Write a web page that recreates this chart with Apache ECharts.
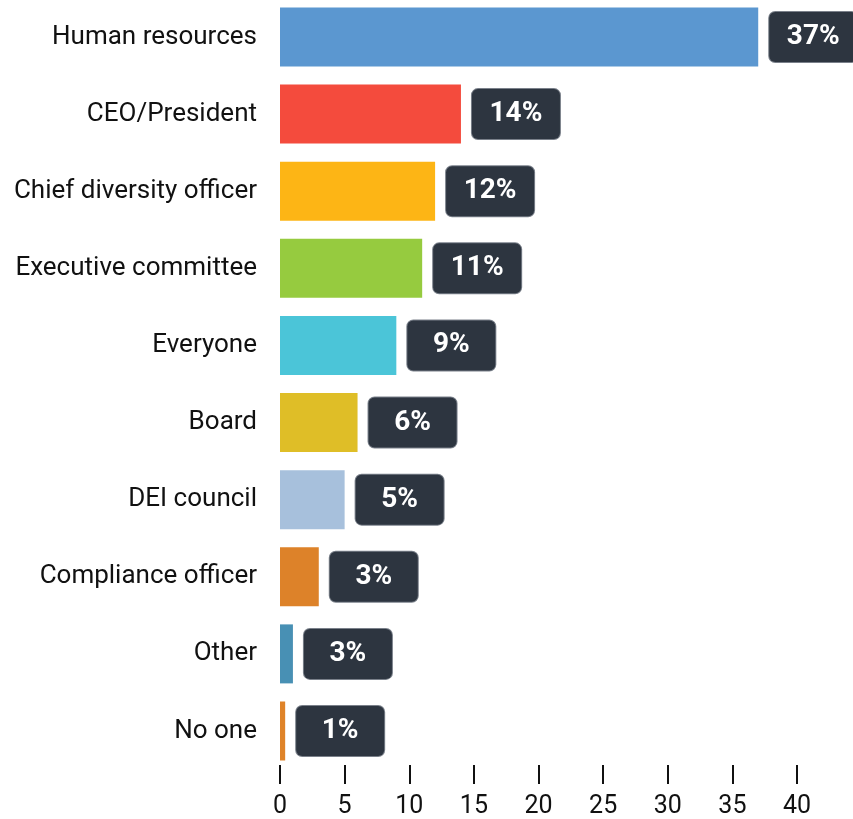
<!DOCTYPE html>
<html>
<head>
<meta charset="utf-8">
<style>html,body{margin:0;padding:0;background:#fff;}#chart{width:853px;height:819px;}</style>
<script src="https://cdn.jsdelivr.net/npm/echarts@6/dist/echarts.min.js"></script>
</head>
<body>
<div id="chart"></div>
<script>
const categories = ['Human resources','CEO/President','Chief diversity officer','Executive committee','Everyone','Board','DEI council','Compliance officer','Other','No one'];
const barValues = [37, 14, 12, 11, 9, 6, 5, 3, 1, 0.4];
const valueLabels = ['37%','14%','12%','11%','9%','6%','5%','3%','3%','1%'];
const barColors = ['#5b97d0','#f44b3d','#fdb515','#96cb3f','#4bc5d8','#dfbe27','#a7c0dc','#dd8229','#4890b4','#df8328'];
const xTicks = {min: 0, max: 40, interval: 5};

const chart = echarts.init(document.getElementById('chart'), null, {renderer: 'canvas'});
chart.setOption({
  animation: false,
  grid: {left: 280, right: 56, top: 37, bottom: 86, containLabel: false},
  xAxis: {
    type: 'value', min: xTicks.min, max: xTicks.max, interval: xTicks.interval,
    offset: 34,
    axisLine: {show: false},
    axisTick: {show: true, length: 19, lineStyle: {color: '#111', width: 2}},
    splitLine: {show: false},
    axisLabel: {margin: 29, color: '#111', fontSize: 25, fontFamily: 'Roboto'}
  },
  yAxis: {
    type: 'category', data: categories, inverse: true, boundaryGap: false,
    axisLine: {show: false}, axisTick: {show: false},
    axisLabel: {margin: 23, color: '#111', fontSize: 26, fontFamily: 'Roboto'}
  },
  series: [{
    type: 'bar',
    data: barValues.map((v, i) => ({value: v, itemStyle: {color: barColors[i]}})),
    barWidth: 59,
    label: {
      show: true, position: 'right', distance: 11,
      formatter: p => '{v|' + valueLabels[p.dataIndex] + '}',
      backgroundColor: '#2d3540', borderColor: '#7a808a', borderWidth: 1, borderRadius: 6,
      padding: 0,
      rich: {
        v: {color: '#fff', fontSize: 28, fontWeight: 'bold', fontFamily: 'Roboto',
            width: 88, height: 50, lineHeight: 50, align: 'center', verticalAlign: 'middle'}
      }
    }
  }]
});
</script>
</body>
</html>
